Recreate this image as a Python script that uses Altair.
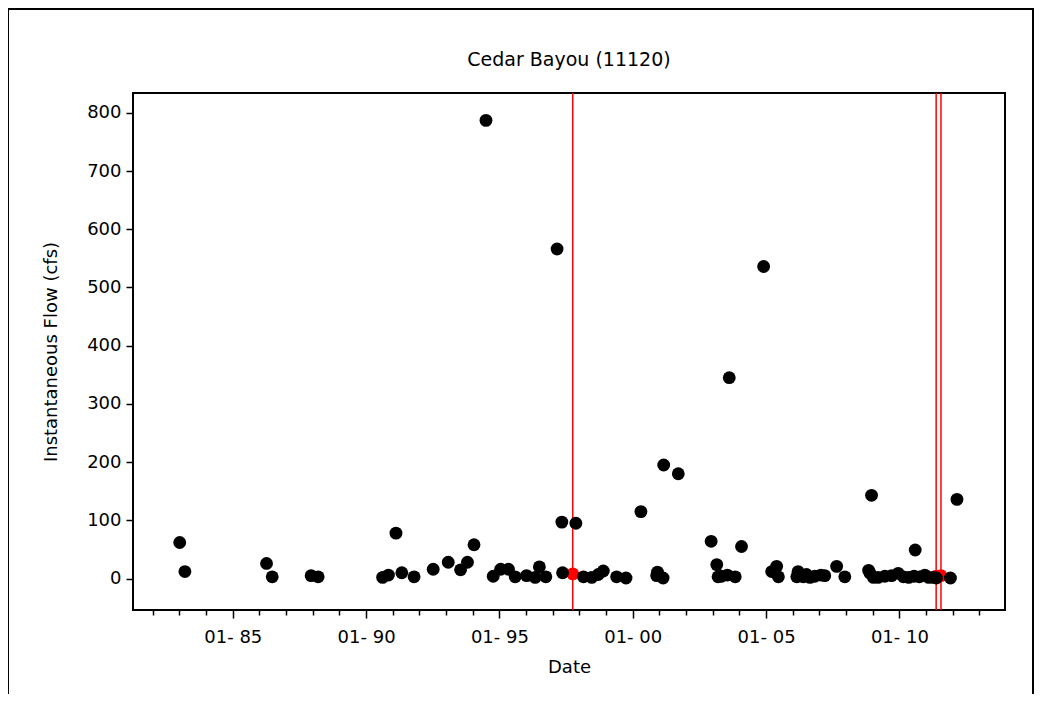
import altair as alt
import pandas as pd

# ---- data ----
dates = [
    "1983-01-05", "1983-03-17", "1986-04-08", "1986-06-25", "1987-12-10",
    "1988-03-15", "1990-08-15", "1990-11-03", "1991-02-14", "1991-05-05",
    "1991-10-20", "1992-07-08", "1993-01-30", "1993-07-18", "1993-10-20",
    "1994-01-18", "1994-07-01", "1994-10-08", "1995-01-18", "1995-05-05",
    "1995-08-05", "1996-01-08", "1996-05-05", "1996-07-01", "1996-09-28",
    "1997-03-01", "1997-05-05", "1997-05-15", "1997-11-13", "1998-02-25",
    "1998-06-18", "1998-09-16", "1998-11-24", "1999-05-25", "1999-10-01",
    "2000-04-22", "2000-11-24", "2000-12-05", "2001-02-20", "2001-02-28",
    "2001-09-16", "2002-12-10", "2003-02-25", "2003-03-15", "2003-05-01",
    "2003-07-20", "2003-08-15", "2003-11-05", "2004-01-30", "2004-11-28",
    "2005-03-18", "2005-05-25", "2005-06-18", "2006-02-25", "2006-03-15",
    "2006-05-25", "2006-07-08", "2006-08-25", "2006-10-30", "2007-01-20",
    "2007-03-15", "2007-08-25", "2007-12-15", "2008-11-05", "2008-11-25",
    "2008-12-15", "2009-01-10", "2009-03-15", "2009-06-15", "2009-09-15",
    "2009-12-15", "2010-02-25", "2010-05-08", "2010-07-20", "2010-08-05",
    "2010-10-01", "2010-12-15", "2011-02-05", "2011-04-08", "2011-05-22",
    "2011-12-01", "2012-02-28",
]
flows = [
    62, 12, 26, 3, 5,
    3, 2, 6, 78, 10,
    3, 16, 28, 15, 28,
    58, 787, 4, 16, 16,
    3, 5, 2, 20, 3,
    566, 97, 10, 95, 3,
    2, 7, 13, 3, 1,
    115, 5, 11, 1, 195,
    180, 64, 24, 3, 4,
    6, 345, 3, 55, 536,
    12, 21, 3, 3, 12,
    3, 7, 2, 4, 6,
    5, 21, 3, 14, 9,
    143, 2, 2, 4, 5,
    9, 3, 2, 4, 49,
    3, 6, 2, 2, 1,
    1, 136,
]

red_dates = ["1997-10-01", "2011-05-19", "2011-07-24"]
red_flows = [8, 4, 5]

year_ticks = list(range(1982, 2014))
y_ticks = [0, 100, 200, 300, 400, 500, 600, 700, 800]

pts = pd.DataFrame({"date": dates, "flow": flows})
red = pd.DataFrame({"date": red_dates, "flow": red_flows})

FONT = "DejaVu Sans"

x_scale = alt.Scale(
    type="utc",
    domain=[alt.DateTime(year=1981, month=4, date=5, utc=True),
            alt.DateTime(year=2013, month=12, date=17, utc=True)],
)
y_scale = alt.Scale(domain=[-54, 834], nice=False, zero=False)

x_axis = alt.Axis(
    title="Date",
    values=[alt.DateTime(year=y, month=1, date=1, utc=True) for y in year_ticks],
    labelExpr="utcyear(datum.value) % 5 == 0 ? utcFormat(datum.value, '%m- %y') : ''",
    tickSize={"condition": {"test": "utcyear(datum.value) % 5 == 0", "value": 8}, "value": 5},
    tickColor="black", tickWidth=1.5, domain=False, grid=False,
    labelFont=FONT, labelFontSize=18, labelColor="black", labelPadding=10,
    labelOverlap=False, labelFlush=False,
    titleFont=FONT, titleFontSize=18, titleFontWeight="normal", titleColor="black",
    titlePadding=12,
)
y_axis = alt.Axis(
    title="Instantaneous Flow (cfs)",
    values=y_ticks,
    tickSize=7, tickColor="black", tickWidth=1.5, domain=False, grid=False,
    labelFont=FONT, labelFontSize=18, labelColor="black", labelPadding=5,
    titleFont=FONT, titleFontSize=18, titleFontWeight="normal", titleColor="black",
    titlePadding=26,
)

rules = alt.Chart(red).mark_rule(color="#FF0000", strokeWidth=1.5).encode(
    x=alt.X("date:T", scale=x_scale, axis=x_axis),
)
red_pts = alt.Chart(red).mark_circle(size=165, color="#FF0000", opacity=1).encode(
    x=alt.X("date:T", scale=x_scale, axis=x_axis),
    y=alt.Y("flow:Q", scale=y_scale, axis=y_axis),
)
black_pts = alt.Chart(pts).mark_circle(size=165, color="black", opacity=1).encode(
    x=alt.X("date:T", scale=x_scale, axis=x_axis),
    y=alt.Y("flow:Q", scale=y_scale, axis=y_axis),
)
border = alt.Chart(pd.DataFrame({"k": [0]})).mark_rect(
    fill=None, stroke="black", strokeWidth=2, clip=False
).encode(
    x=alt.value(-125), x2=alt.value(900), y=alt.value(-84), y2=alt.value(700)
)

chart = alt.layer(rules, red_pts, black_pts, border).properties(
    width=872,
    height=517,
    background="white",
    autosize=alt.AutoSizeParams(type="none"),
    padding={"left": 125, "top": 85, "right": 30, "bottom": 84},
    title=alt.TitleParams(
        "Cedar Bayou (11120)", font=FONT, fontSize=19, fontWeight="normal",
        color="black", offset=0, dy=62, anchor="middle",
    ),
).configure_view(
    stroke="black", strokeWidth=2
)

chart.save("out.html", embed_options={"renderer": "svg", "actions": False})
